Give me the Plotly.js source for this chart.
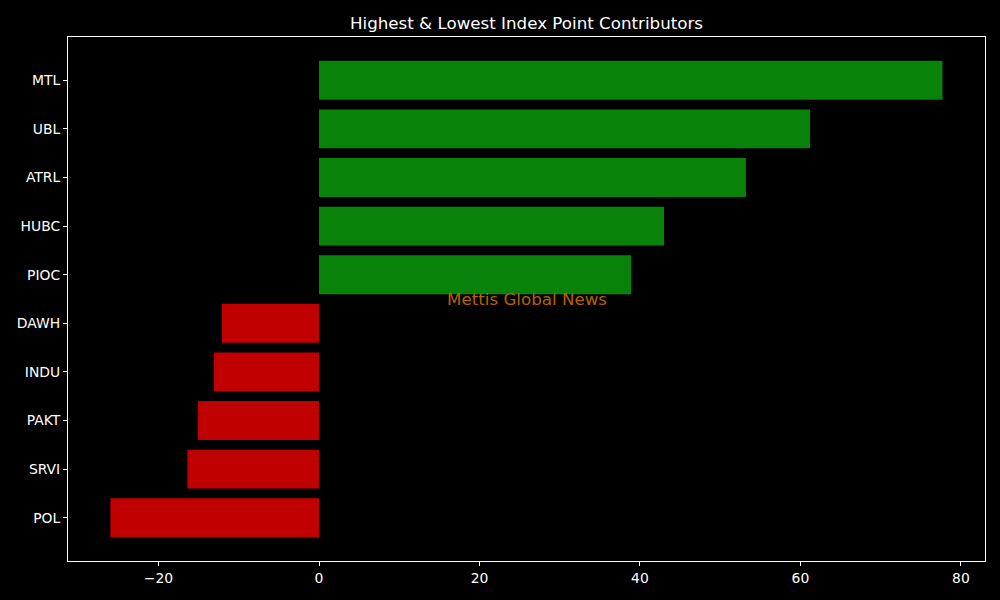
<!DOCTYPE html>
<html>
<head>
<meta charset="utf-8">
<script src="https://cdn.plot.ly/plotly-3.0.1.min.js"></script>
<style>html,body{margin:0;padding:0;background:#000;}#chart{width:1000px;height:600px;}</style>
</head>
<body>
<div id="chart"></div>
<script>
const categories = ["MTL", "UBL", "ATRL", "HUBC", "PIOC", "DAWH", "INDU", "PAKT", "SRVI", "POL"];
const values = [77.7, 61.2, 53.2, 43.0, 38.9, -12.1, -13.1, -15.1, -16.4, -26.0];
const tickVals = [-20, 0, 20, 40, 60, 80];

const colors = values.map(v => v >= 0 ? "#088208" : "#c00000");

const trace = {
  type: "bar",
  orientation: "h",
  x: values,
  y: categories,
  width: 0.8,
  marker: {color: colors, line: {width: 0}},
  hoverinfo: "x+y"
};

const font = {family: "DejaVu Sans", color: "#ffffff", size: 13.9};

const layout = {
  width: 1000, height: 600,
  paper_bgcolor: "#000000",
  plot_bgcolor: "#000000",
  font: font,
  margin: {l: 68, r: 15, t: 37, b: 39},
  showlegend: false,
  title: {text: "Highest &amp; Lowest Index Point Contributors", font: {family: "DejaVu Sans", size: 16.7, color: "#ffffff"}, x: 0.5, xref: "paper", xanchor: "center", y: 1, yref: "paper", yanchor: "bottom", pad: {b: 8}},
  xaxis: {
    range: [-31.28, 83.0],
    tickvals: tickVals,
    showgrid: false, zeroline: false,
    showline: true, linecolor: "#ffffff", linewidth: 1, mirror: true,
    ticks: "outside", ticklen: 4, tickwidth: 1, tickcolor: "#ffffff",
    tickfont: font
  },
  yaxis: {
    type: "category",
    categoryorder: "array",
    categoryarray: categories,
    range: [9.89, -0.89],
    showgrid: false, zeroline: false,
    showline: true, linecolor: "#ffffff", linewidth: 1, mirror: true,
    ticks: "outside", ticklen: 4, tickwidth: 1, tickcolor: "#ffffff",
    tickfont: font
  },
  annotations: [{
    text: "Mettis Global News",
    xref: "paper", yref: "paper", x: 0.5, y: 0.5,
    xanchor: "center", yanchor: "middle",
    showarrow: false,
    font: {family: "DejaVu Sans", size: 16.7, color: "#b46200"}
  }]
};

Plotly.newPlot("chart", [trace], layout, {displayModeBar: false, staticPlot: true});
</script>
</body>
</html>
